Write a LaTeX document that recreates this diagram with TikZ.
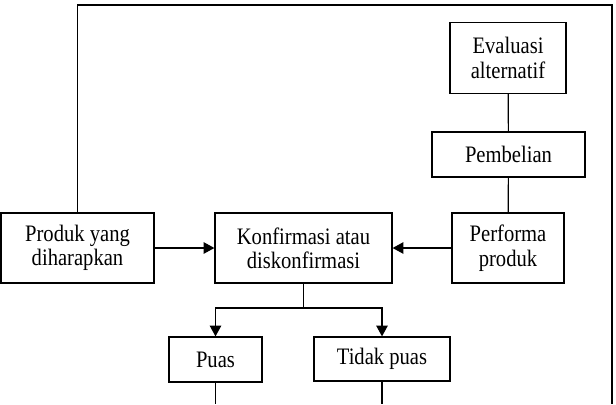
\documentclass[tikz,border=0pt]{standalone}
\usepackage{fontspec}
\setmainfont[FakeStretch=0.873]{Liberation Serif}
\usetikzlibrary{arrows.meta}

\begin{document}
\begin{tikzpicture}[x=0.75pt,y=-0.75pt,line width=0.9pt]

      \useasboundingbox (0,0) rectangle (616,404);

      \begin{scope}[every node/.style={rectangle,draw,align=center,inner sep=0pt,
          font=\fontsize{17.7}{18.3}\selectfont}]
        \node[minimum width=116*0.75pt, minimum height=71*0.75pt] (eval)  at (508,58)    {Evaluasi\\alternatif};
        \node[minimum width=153*0.75pt, minimum height=45*0.75pt] (beli)  at (508.5,154.5) {Pembelian};
        \node[minimum width=153*0.75pt, minimum height=70*0.75pt] (prod)  at (77.5,248)  {Produk yang\\diharapkan};
        \node[minimum width=177*0.75pt, minimum height=70*0.75pt] (konf)  at (303.5,248) {Konfirmasi atau\\diskonfirmasi};
        \node[minimum width=112*0.75pt, minimum height=70*0.75pt] (perf)  at (508,248)   {Performa\\produk};
        \node[minimum width=93*0.75pt, minimum height=45*0.75pt]  (puas)  at (215.5,359.5) {Puas};
        \node[minimum width=136*0.75pt, minimum height=44*0.75pt] (tidak) at (382,359)   {Tidak puas};
      \end{scope}

      \coordinate (tl)    at (77.5,5);
      \coordinate (tr)    at (612,5);
      \coordinate (br)    at (612,404);
      \coordinate (split) at (303.5,308);
      \coordinate (pb)    at (215.5,404);
      \coordinate (tb)    at (382,404);

      \begin{scope}[every edge/.style={draw}, >={Triangle[length=8pt,width=8.5pt]}]
        \path (eval)  edge (beli);
        \path (beli)  edge (perf);
        \path (prod)  edge[->] (konf);
        \path (perf)  edge[->] (konf);
        \draw (konf) -- (split);
        \draw[->] (split) -| (puas);
        \draw[->] (split) -| (tidak);
        \draw (puas)  -- (pb);
        \draw (tidak) -- (tb);
        \draw (prod) -- (tl) -- (tr) -- (br);
      \end{scope}

    \end{tikzpicture}
\end{document}
